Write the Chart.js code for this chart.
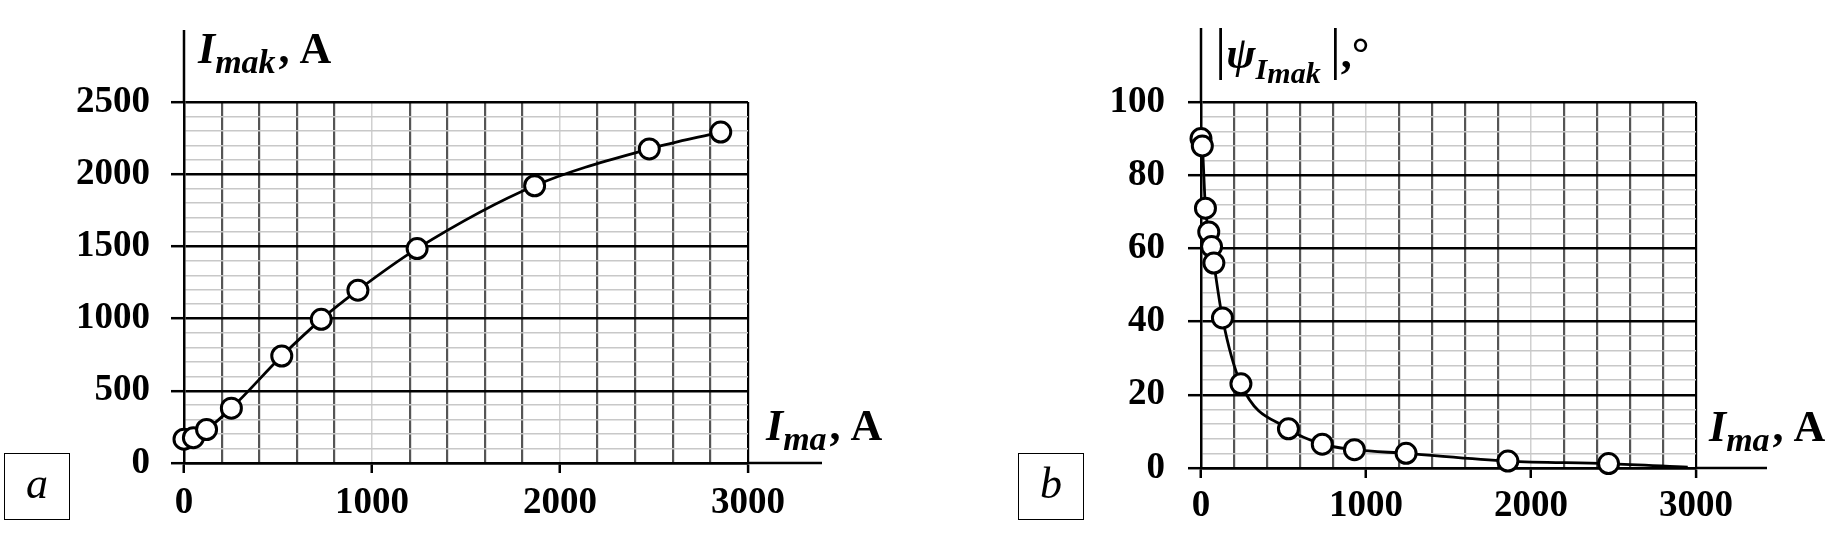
<!DOCTYPE html>
<html>
<head>
<meta charset="utf-8">
<script src="https://cdn.jsdelivr.net/npm/chart.js@4"></script>
<style>
  body { margin: 0; background: #fff; width: 1831px; height: 534px; position: relative; overflow: hidden; }
  canvas { position: absolute; top: 0; }
  #chartA { left: 0; }
  #chartB { left: 930px; }
  .ttl { position: absolute; font-family: 'Liberation Serif', serif; font-size: 44px; line-height: 44px; white-space: nowrap; color: #000; font-weight: bold; }
  .ttl i { font-style: italic; }
  .ttl sub { font-size: 34px; font-weight: bold; font-style: italic; vertical-align: -10px; line-height: 0; margin-right: 3px; }
  .ttl sub.s2 { font-size: 30px; vertical-align: -11px; }
  .ttl sub.s2 sub { font-size: 30px; vertical-align: -4px; margin-right: 6px; }
  .ttl .bar { font-size: 56px; font-style: normal; font-weight: normal; }
  .ttl .comma { margin-right: 10px; }
  .box { position: absolute; box-sizing: border-box; border: 1.5px solid #000; width: 66px; height: 67px;
         font: italic 44px 'Liberation Serif', serif; text-align: center; line-height: 60px; }
</style>
</head>
<body>
<canvas id="chartA" width="930" height="534"></canvas>
<canvas id="chartB" width="901" height="534"></canvas>

<div class="ttl" style="left:198px; top:27px;"><i>I</i><sub>mak</sub><span class="comma">,</span>A</div>
<div class="ttl" style="left:766px; top:404px;"><i>I</i><sub>ma</sub><span class="comma">,</span>A</div>
<div class="ttl" style="left:1215px; top:27px;"><span class="bar">|</span><i>ψ</i><sub class="s2"><i>I</i><sub>mak</sub></sub><span class="bar">|</span>,°</div>
<div class="ttl" style="left:1709px; top:405px;"><i>I</i><sub>ma</sub><span class="comma">,</span>A</div>
<div class="box" style="left:4px; top:453px;">a</div>
<div class="box" style="left:1018px; top:453px;">b</div>

<script>
// chart a: I_mak vs I_ma
const currentA = [0, 50, 120, 252, 520, 730, 925, 1240, 1865, 2475, 2855];
const imakA = [165, 175, 232, 380, 741, 995, 1197, 1485, 1920, 2175, 2292];

// chart b: |psi| vs I_ma (last point is the end of the curve, no marker)
const currentB = [0, 8, 27, 47, 64, 78, 130, 242, 530, 735, 930, 1243, 1860, 2470, 2950];
const psiB = [90, 88, 71, 64.5, 60.5, 56, 41, 23, 10.7, 6.5, 5, 4, 1.9, 1.2, 0.2];

// tick labels
const xTickLabels = [0, 1000, 2000, 3000];
const yTickLabelsA = [0, 500, 1000, 1500, 2000, 2500];
const yTickLabelsB = [0, 20, 40, 60, 80, 100];

const tickFont = { family: 'Liberation Serif', size: 37, weight: 'bold' };

// axis lines run past the plot box (right and up)
const axisExtend = {
  id: 'axisExtend',
  afterDraw(chart, args, opts) {
    const { ctx, chartArea: a } = chart;
    ctx.save();
    ctx.strokeStyle = '#000';
    ctx.lineWidth = 2.5;
    ctx.beginPath();
    ctx.moveTo(a.right, a.bottom);
    ctx.lineTo(a.right + opts.right, a.bottom);
    ctx.moveTo(a.left, a.top);
    ctx.lineTo(a.left, a.top - opts.up);
    ctx.stroke();
    ctx.restore();
  }
};

function makeChart(id, xs, ys, cfg) {
  const points = xs.map((x, i) => ({ x: x, y: ys[i] }));
  const last = points.length - 1;
  return new Chart(document.getElementById(id), {
    type: 'scatter',
    data: {
      datasets: [{
        data: points,
        showLine: true,
        clip: false,
        borderColor: '#000',
        borderWidth: 2.8,
        cubicInterpolationMode: 'monotone',
        pointRadius: ctx => (cfg.hideLast && ctx.dataIndex === last) ? 0 : 10,
        pointBackgroundColor: '#fff',
        pointBorderColor: '#000',
        pointBorderWidth: 3,
      }]
    },
    options: {
      responsive: false,
      animation: false,
      layout: { padding: { left: 0, top: 102, right: cfg.padRight, bottom: 0 } },
      plugins: {
        legend: { display: false },
        tooltip: { enabled: false },
        axisExtend: { right: cfg.extRight, up: cfg.extUp },
      },
      scales: {
        x: {
          type: 'linear',
          min: 0,
          max: 3000,
          afterFit: s => { s.height = cfg.xHeight; },
          border: { display: true, color: '#000', width: 2.5 },
          grid: {
            color: ctx => {
              const v = ctx.tick.value;
              if (v === 3000) return '#000';
              return v % 1000 === 0 ? '#d0d0d0' : '#555';
            },
            lineWidth: ctx => (ctx.tick.value % 1000 === 0 && ctx.tick.value !== 3000) ? 1.5 : 2.2,
            tickLength: 10,
            tickWidth: 2.5,
            tickColor: ctx => xTickLabels.includes(ctx.tick.value) ? '#000' : 'rgba(0,0,0,0)',
          },
          ticks: {
            stepSize: 200,
            autoSkip: false,
            maxRotation: 0,
            padding: cfg.xPad,
            color: '#000',
            font: tickFont,
            callback: v => xTickLabels.includes(v) ? String(v) : '',
          }
        },
        y: {
          type: 'linear',
          min: 0,
          max: cfg.yMax,
          afterFit: s => { s.width = cfg.yWidth; },
          border: { display: true, color: '#000', width: 2.5 },
          grid: {
            color: ctx => cfg.yLabels.includes(ctx.tick.value) ? '#000' : '#c8c8c8',
            lineWidth: ctx => cfg.yLabels.includes(ctx.tick.value) ? 2.4 : 1.5,
            tickLength: 13,
            tickWidth: 2.5,
            tickColor: ctx => cfg.yLabels.includes(ctx.tick.value) ? '#000' : 'rgba(0,0,0,0)',
          },
          ticks: {
            stepSize: cfg.yStep,
            autoSkip: false,
            padding: cfg.yPad,
            color: '#000',
            font: tickFont,
            callback: v => cfg.yLabels.includes(v) ? String(v) : '',
          }
        }
      }
    },
    plugins: [axisExtend]
  });
}

makeChart('chartA', currentA, imakA, {
  yMax: 2500, yStep: 100, yLabels: yTickLabelsA,
  yWidth: 184, xHeight: 71, padRight: 182,
  xPad: 8, yPad: 21, extRight: 74, extUp: 72, hideLast: false,
});

makeChart('chartB', currentB, psiB, {
  yMax: 100, yStep: 4, yLabels: yTickLabelsB,
  yWidth: 271, xHeight: 66, padRight: 135,
  xPad: 6, yPad: 23, extRight: 71, extUp: 74, hideLast: true,
});
</script>
</body>
</html>
